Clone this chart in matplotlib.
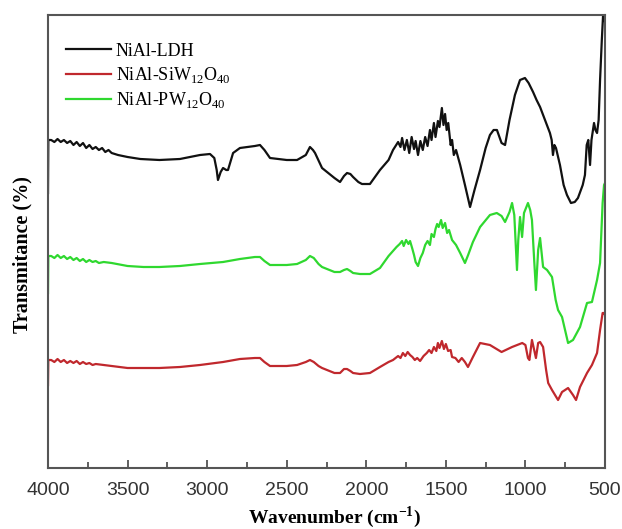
import matplotlib
matplotlib.use("Agg")
import matplotlib.pyplot as plt
from matplotlib.ticker import MultipleLocator

plt.rcParams["mathtext.fontset"] = "custom"
plt.rcParams["mathtext.rm"] = "Liberation Serif"
plt.rcParams["mathtext.bf"] = "Liberation Serif:bold"

# transmittance in arbitrary units (offset traces)
ldh_wn = [4000, 3998, 3980, 3960, 3940, 3920, 3900, 3880, 3860, 3840, 3820, 3800, 3780, 3760, 3740, 3720,
          3700, 3680, 3660, 3640, 3620, 3600, 3560, 3500, 3420, 3300, 3171, 3045, 2982, 2955, 2940, 2932,
          2915, 2900, 2880, 2869, 2850, 2837, 2794, 2700, 2668, 2640, 2605, 2500, 2435, 2380, 2354, 2335,
          2322, 2278, 2200, 2165, 2140, 2121, 2100, 2083, 2050, 2027, 1977, 1914, 1860, 1832, 1800, 1785,
          1775, 1760, 1745, 1730, 1715, 1700, 1690, 1675, 1660, 1645, 1630, 1615, 1600, 1590, 1575, 1565,
          1550, 1540, 1525, 1515, 1505, 1495, 1485, 1470, 1461, 1450, 1436, 1410, 1380, 1348, 1320, 1285,
          1250, 1223, 1200, 1179, 1150, 1128, 1100, 1066, 1034, 1003, 980, 952, 930, 908, 877, 846, 835,
          827, 818, 808, 783, 760, 739, 714, 690, 670, 640, 626, 615, 605, 594, 585, 569, 560, 550, 540,
          531, 520, 512, 505, 500]
ldh_py = [193, 140, 140, 142, 139, 142, 140, 143, 141, 145, 142, 146, 143, 148, 145, 149,
          147, 150, 148, 152, 150, 153, 155, 157, 159, 160, 159, 155, 154, 158, 170, 180,
          172, 168, 170, 170, 160, 153, 148, 146, 145, 150, 158, 160, 160, 155, 147, 150,
          153, 168, 178, 182, 176, 173, 174, 177, 182, 184, 184, 170, 160, 150, 142, 147,
          138, 150, 140, 153, 137, 149, 141, 155, 141, 150, 137, 146, 130, 140, 123, 137,
          121, 127, 108, 125, 114, 130, 123, 145, 140, 155, 150, 165, 185, 207, 190, 170,
          148, 135, 130, 130, 143, 145, 120, 95, 80, 78, 83, 92, 100, 107, 120, 133, 140,
          155, 145, 148, 165, 185, 195, 203, 202, 198, 185, 175, 145, 140, 165, 140, 123, 130, 133, 120,
          80, 40, 15, 18, 22]

pw_wn = [4000, 3998, 3980, 3960, 3940, 3920, 3900, 3880, 3860, 3840, 3820, 3800, 3780, 3760, 3740, 3720,
         3700, 3680, 3650, 3600, 3500, 3400, 3300, 3171, 3045, 2900, 2794, 2700, 2668, 2640, 2605, 2500,
         2435, 2380, 2354, 2330, 2300, 2278, 2200, 2165, 2140, 2121, 2100, 2083, 2040, 1977, 1914, 1860,
         1810, 1790, 1775, 1765, 1750, 1735, 1725, 1712, 1700, 1690, 1675, 1660, 1645, 1630, 1615, 1600,
         1590, 1575, 1565, 1555, 1545, 1530, 1520, 1505, 1492, 1480, 1461, 1436, 1410, 1380, 1360, 1330,
         1285, 1223, 1180, 1150, 1128, 1100, 1084, 1070, 1053, 1045, 1034, 1021, 1009, 984, 970, 959,
         945, 934, 920, 908, 889, 864, 833, 810, 795, 770, 732, 701, 657, 613, 582, 550, 531, 515, 506, 500]
pw_py = [293, 256, 256, 258, 255, 258, 256, 259, 257, 260, 258, 261, 259, 262, 260, 262,
         261, 263, 262, 263, 266, 267, 267, 266, 264, 262, 259, 257, 257, 261, 265, 265,
         264, 260, 256, 258, 264, 267, 272, 272, 270, 269, 271, 273, 274, 274, 268, 256,
         247, 244, 241, 246, 240, 244, 241, 248, 255, 262, 266, 258, 253, 245, 241, 245,
         234, 237, 229, 224, 227, 220, 228, 223, 233, 230, 240, 245, 253, 263, 255, 242,
         227, 215, 213, 216, 222, 212, 203, 215, 270, 240, 217, 237, 213, 203, 210, 220,
         260, 290, 250, 238, 267, 270, 277, 300, 310, 317, 343, 340, 327, 303, 302, 280, 263, 203, 185, 183]

siw_wn = [4000, 3998, 3980, 3960, 3940, 3920, 3900, 3880, 3860, 3840, 3820, 3800, 3780, 3760, 3740, 3720,
          3700, 3650, 3600, 3500, 3422, 3300, 3171, 3045, 2900, 2794, 2700, 2668, 2640, 2605, 2500, 2435,
          2380, 2354, 2330, 2300, 2278, 2200, 2165, 2140, 2121, 2100, 2083, 2040, 1977, 1914, 1860, 1832,
          1800, 1785, 1770, 1755, 1740, 1725, 1710, 1695, 1680, 1662, 1640, 1620, 1605, 1590, 1575, 1560,
          1550, 1540, 1525, 1512, 1500, 1486, 1470, 1461, 1440, 1420, 1400, 1380, 1361, 1330, 1285, 1223,
          1150, 1084, 1020, 1000, 984, 975, 959, 945, 934, 920, 908, 889, 870, 857, 833, 795, 770, 732,
          701, 682, 657, 635, 613, 582, 550, 531, 515, 506, 500]
siw_py = [385, 360, 360, 362, 359, 362, 360, 363, 361, 363, 361, 364, 362, 364, 363, 365,
          364, 365, 366, 368, 368, 368, 367, 365, 362, 359, 358, 358, 362, 366, 366, 365,
          362, 360, 362, 366, 368, 373, 373, 369, 369, 371, 373, 374, 373, 367, 362, 360,
          356, 358, 353, 356, 352, 355, 357, 360, 358, 361, 356, 353, 350, 353, 347, 351,
          343, 348, 341, 349, 344, 351, 350, 357, 358, 362, 358, 362, 367, 357, 343, 345,
          352, 347, 343, 345, 358, 360, 340, 350, 358, 343, 342, 347, 370, 383, 390, 400, 392, 388,
          395, 400, 387, 380, 373, 365, 353, 330, 313, 313, 315]

labels = ["NiAl-LDH", r"NiAl-SiW$_\mathrm{12}$O$_\mathrm{40}$", r"NiAl-PW$_\mathrm{12}$O$_\mathrm{40}$"]
colors = ["#111111", "#c0282d", "#2fd82f"]

fig = plt.figure(figsize=(6.22, 5.29), dpi=100)
ax = fig.add_axes([48 / 622, 61 / 529, 557 / 622, 453 / 529])

# pixel rows -> height above the x axis
ldh = [468 - v for v in ldh_py]
siw = [468 - v for v in siw_py]
pw = [468 - v for v in pw_py]

ax.plot(ldh_wn, ldh, color=colors[0], lw=1.6, label=labels[0])
ax.plot(siw_wn, siw, color=colors[1], lw=1.6, label=labels[1])
ax.plot(pw_wn, pw, color=colors[2], lw=1.6, label=labels[2])

ax.set_xlim(4000, 500)
ax.set_ylim(0, 453)
ax.set_yticks([])
ax.xaxis.set_major_locator(MultipleLocator(500))
ax.xaxis.set_minor_locator(MultipleLocator(250))
ax.tick_params(axis="x", which="major", direction="in", length=6, width=1.2, pad=10,
               labelsize=14, labelcolor="#333333", color="#444444")
ax.tick_params(axis="x", which="minor", direction="in", length=4, width=1.2, color="#444444")
for lab in ax.get_xticklabels():
    lab.set_family("Liberation Sans")

for s in ax.spines.values():
    s.set_color("#555555")
    s.set_linewidth(1.5)

fig.text(335 / 622, (529 - 517) / 529, r"Wavenumber (cm$^{\mathbf{-1}}$)", family="Liberation Serif",
         fontweight="bold", fontsize=14, ha="center", va="center")
fig.text(22 / 622, (529 - 255) / 529, "Transmitance (%)", family="Liberation Serif",
         fontweight="bold", fontsize=14.5, ha="center", va="center", rotation=90)

ax.legend(loc="upper left", bbox_to_anchor=(0.003, 0.975), frameon=False, handlelength=2.5,
          handletextpad=0.25, labelspacing=0.3, prop={"family": "Liberation Serif", "size": 13})

fig.savefig("out.png", dpi=100)
